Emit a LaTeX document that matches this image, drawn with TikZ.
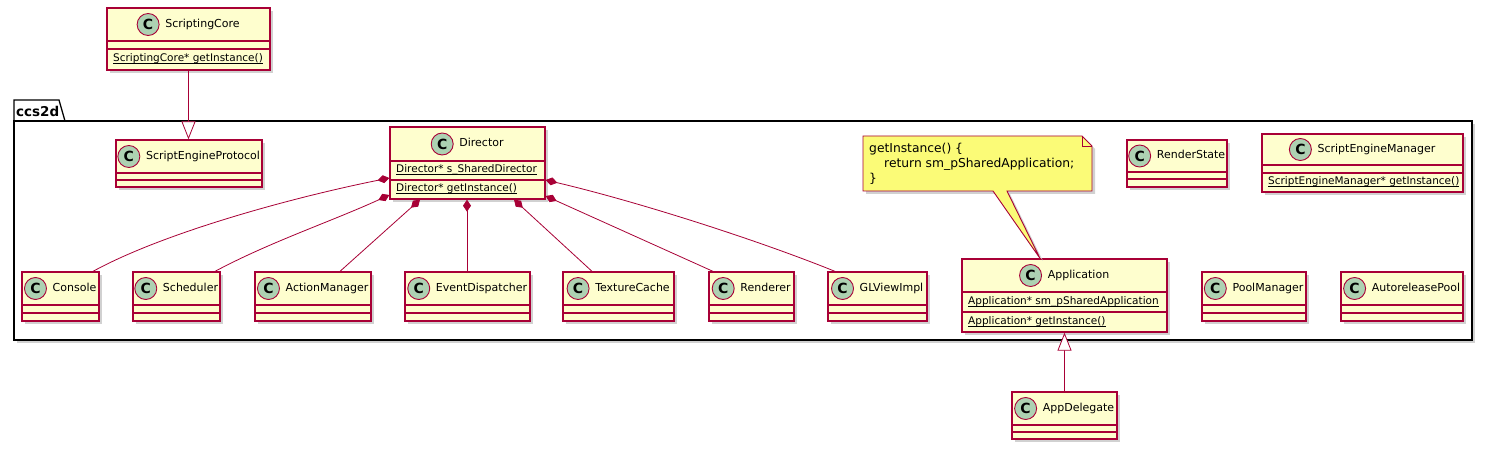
\documentclass[tikz,border=0pt]{standalone}
\usepackage{fontspec}
\setmainfont{DejaVu Sans}
\usetikzlibrary{arrows.meta}
\definecolor{umlred}{HTML}{A80036}
\definecolor{classfill}{HTML}{FEFECE}
\definecolor{circfill}{HTML}{ADD1B2}
\definecolor{notefill}{HTML}{FBFB77}
\tikzset{
 classbox/.style={draw=umlred, fill=classfill, line width=1.3pt, inner sep=0pt, rectangle},
 shadowbox/.style={fill=black!18},
 sepline/.style={draw=umlred, line width=1.1pt},
 ctitle/.style={font=\fontsize{11}{13}\selectfont, inner sep=0pt, text height=8.5pt, text depth=2.5pt},
 cmark/.style={circle, draw=umlred, line width=0.9pt, fill=circfill, minimum size=22pt, inner sep=0pt, font=\fontsize{14}{14}\selectfont\bfseries},
 member/.style={font=\fontsize{10.5}{12}\selectfont, inner sep=0pt, anchor=west, text height=8pt, text depth=3pt},
 conn/.style={draw=umlred, line width=0.8pt},
 comp/.style={conn, {Diamond[length=12pt,width=8pt,fill=umlred]}-},
 inherit/.style={conn, -{Triangle[open, length=18pt, width=14pt, fill=white]}},
 pkgline/.style={draw=black, line width=1.3pt, fill=white},
}
\newcommand\stul[1]{{\setbox0\hbox{#1}\rlap{\vrule height -1.4pt depth 2.2pt width \wd0}\box0}}
\newcommand\umlclass[8]{%
  \fill[shadowbox] (#2+3,#4+3) rectangle (#3+3,#7+3);
  \node[classbox, minimum width={#3-#2}, minimum height={#7-#4}] (#1) at ({(#2+#3)/2},{(#4+#7)/2}) {};
  \draw[sepline] (#2,#5) -- (#3,#5) (#2,#6) -- (#3,#6);
  \node[ctitle] (#1-t) at ({(#2+#3)/2+14},{(#4+#5)/2}) {#8};
  \node[cmark] (#1-c) at ([xshift=-17pt]#1-t.west) {C};
}
\begin{document}
\begin{tikzpicture}[x=1pt,y=-1pt]
\useasboundingbox (0,0) rectangle (1492,449);
% package
\fill[shadowbox] (17,124) rectangle (1475,343);
\draw[pkgline] (14,121) -- (14,100) -- (59,100) -- (65,121) -- cycle;
\draw[pkgline] (14,121) rectangle (1472,340);
\node[font=\bfseries\fontsize{13.5}{13.5}\selectfont, anchor=west, inner sep=0pt] (pkglabel) at (16,111) {ccs2d};
% classes
\umlclass{score}{107}{270}{8}{41}{49}{70}{ScriptingCore}
\node[member] (score-m) at (113,59.5) {\stul{ScriptingCore* getInstance()}};
\umlclass{sep}{116}{262}{140}{173}{180}{187}{ScriptEngineProtocol}
\umlclass{dir}{390}{545}{127}{161}{180}{199}{Director}
\node[member] (dir-a) at (396,170.5) {\stul{Director* s\_SharedDirector}};
\node[member] (dir-m) at (396,189.5) {\stul{Director* getInstance()}};
\umlclass{rstate}{1127}{1227}{140}{172}{179}{187}{RenderState}
\umlclass{semgr}{1262}{1463}{134}{165}{173}{192}{ScriptEngineManager}
\node[member] (semgr-m) at (1268,182.5) {\stul{ScriptEngineManager* getInstance()}};
\umlclass{console}{22}{99}{272}{305}{313}{321}{Console}
\umlclass{sched}{133}{220}{272}{305}{313}{321}{Scheduler}
\umlclass{actmgr}{255}{371}{272}{305}{313}{321}{ActionManager}
\umlclass{evdisp}{405}{530}{272}{305}{313}{321}{EventDispatcher}
\umlclass{texc}{563}{674}{272}{305}{313}{321}{TextureCache}
\umlclass{rend}{709}{794}{272}{305}{313}{321}{Renderer}
\umlclass{glview}{828}{927}{272}{305}{313}{321}{GLViewImpl}
\umlclass{app}{962}{1167}{259}{292}{312}{332}{Application}
\node[member] (app-a) at (968,302) {\stul{Application* sm\_pSharedApplication}};
\node[member] (app-m) at (968,322) {\stul{Application* getInstance()}};
\umlclass{poolmgr}{1202}{1306}{272}{305}{313}{321}{PoolManager}
\umlclass{arpool}{1341}{1463}{272}{305}{313}{321}{AutoreleasePool}
\umlclass{appdel}{1012}{1117}{392}{425}{432}{439}{AppDelegate}
% note
\coordinate (notetip) at (app.north -| 1040,0);
\begin{scope}[shift={(3,3)}]
\fill[shadowbox] (863,136) -- (1082,136) -- (1092,146) -- (1092,191) -- (1007,191) -- (1040,258) -- (993,191) -- (863,191) -- cycle;
\end{scope}
\draw[draw=umlred, fill=notefill, line width=0.9pt] (863,136) -- (1082,136) -- (1092,146) -- (1092,191) -- (1007,191) -- (notetip) -- (993,191) -- (863,191) -- cycle;
\draw[draw=umlred, line width=0.9pt] (1082,136) -- (1082,146) -- (1092,146);
\node[anchor=north west, align=left, inner sep=0pt, font=\fontsize{12.3}{15}\selectfont] (note) at (869,143) {getInstance() \{\\\hspace*{15pt}return sm\_pSharedApplication;\\\}};
% connectors
\draw[inherit] (score.south) -- (score.south |- sep.north);
\draw[inherit] (appdel.north) -- (app.south);
\draw[comp] (dir.west |- 0,178) .. controls (290,198) and (163,233) .. (console.north -| 93,0);
\draw[comp] (dir.west |- 0,195) .. controls (330,222) and (270,242) .. (sched.north -| 215,0);
\draw[comp] (dir.south -| 420,0) -- (actmgr.north -| 340,0);
\draw[comp] (dir.south -| 467,0) -- (evdisp.north -| 467,0);
\draw[comp] (dir.south -| 514,0) -- (texc.north -| 592,0);
\draw[comp] (dir.east |- 0,196) -- (rend.north -| 713,0);
\draw[comp] (dir.east |- 0,180) .. controls (635,201) and (755,239) .. (glview.north -| 835,0);
\end{tikzpicture}
\end{document}
